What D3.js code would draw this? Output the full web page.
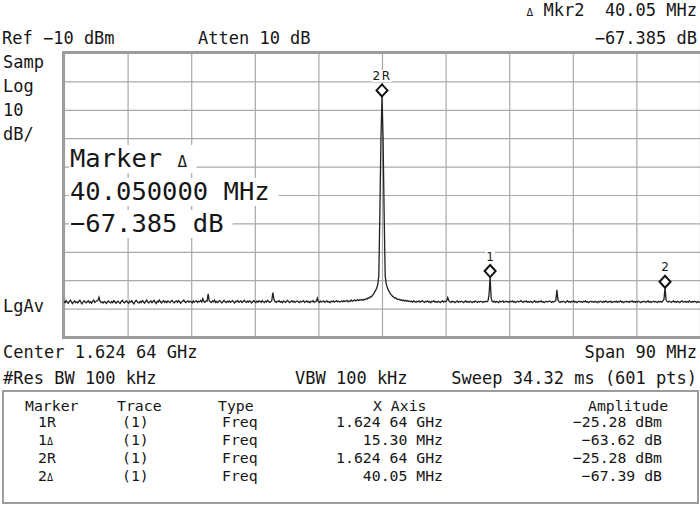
<!DOCTYPE html>
<html><head><meta charset="utf-8">
<script src="https://cdn.jsdelivr.net/npm/d3@7"></script>
<style>html,body{margin:0;padding:0;background:#fff;} svg{display:block;} text{white-space:pre;}</style>
</head><body><svg id="c" width="700" height="505"></svg>
<script>
// ---- instrument settings ----
const centerLabel = "Center 1.624 64 GHz";
const spanMHz = 90;
const refLevel = -10;     // dBm at top
const dbPerDiv = 10;
const numPoints = 601;
const xTicks = [-45, -36, -27, -18, -9, 0, 9, 18, 27, 36, 45];   // MHz offset from center
const yTicks = [-10, -20, -30, -40, -50, -60, -70, -80, -90, -100, -110]; // dBm

// ---- trace (601 points, dBm) ----
const trace = [
-97.4,-97.9,-97.2,-97.8,-98.1,-97.5,-97.0,-97.6,-98.2,-97.7,-97.3,-97.9,-97.6,-98.0,-97.4,-97.1,-97.8,-98.3,-97.6,-97.2,
-97.7,-98.0,-97.5,-97.2,-97.9,-97.6,-98.1,-97.4,-97.0,-97.8,-97.5,-97.3,-97.1,-96.0,-97.4,-97.9,-97.6,-98.0,-97.5,-97.8,
-98.2,-97.6,-97.3,-97.8,-98.0,-97.5,-97.9,-97.2,-97.6,-98.1,-97.7,-97.4,-97.9,-98.2,-97.5,-97.1,-97.7,-98.0,-97.6,-97.3,
-97.8,-98.1,-97.4,-97.7,-97.2,-97.9,-98.3,-97.6,-97.1,-97.5,-97.9,-98.0,-97.4,-97.8,-97.2,-97.6,-98.1,-97.5,-97.0,-97.7,
-98.0,-97.6,-97.3,-97.9,-97.5,-97.1,-97.8,-98.2,-97.4,-97.7,-97.0,-97.6,-98.0,-97.5,-97.2,-97.8,-97.4,-97.9,-97.3,-97.6,
-97.9,-97.4,-97.1,-97.7,-98.0,-97.5,-97.3,-97.8,-97.2,-97.6,-98.1,-97.7,-97.4,-97.0,-97.6,-97.9,-97.5,-97.3,-97.8,-97.4,
-97.6,-98.0,-97.3,-97.7,-97.5,-97.2,-97.8,-97.4,-97.6,-97.1,-97.7,-96.5,-97.5,-97.8,-97.3,-97.4,-94.8,-97.2,-97.6,-97.9,
-97.3,-97.6,-97.0,-97.8,-97.5,-97.9,-97.4,-97.2,-97.7,-98.0,-97.5,-97.1,-97.6,-97.9,-97.4,-97.7,-97.3,-97.8,-97.5,-97.2,
-97.7,-98.0,-97.4,-97.6,-97.2,-97.8,-97.5,-97.3,-97.9,-97.6,-97.1,-97.5,-97.8,-97.4,-97.7,-97.3,-97.6,-98.0,-97.5,-97.2,
-97.6,-97.9,-97.4,-97.7,-97.3,-97.5,-97.8,-97.2,-97.6,-97.9,-97.4,-97.7,-97.1,-97.5,-97.8,-97.6,-97.3,-94.4,-96.6,-97.5,
-97.8,-97.4,-97.6,-97.2,-97.7,-97.5,-97.9,-97.3,-97.6,-97.8,-97.4,-97.1,-97.6,-97.9,-97.5,-97.2,-97.7,-97.4,-97.8,-97.5,
-97.3,-97.6,-97.9,-97.4,-97.7,-97.5,-97.2,-97.8,-97.6,-97.3,-97.7,-97.5,-97.9,-97.4,-97.6,-97.2,-97.8,-97.5,-97.4,-96.3,
-97.6,-97.8,-97.4,-97.7,-97.5,-97.3,-97.8,-97.6,-97.2,-97.7,-97.5,-97.9,-97.4,-97.6,-97.3,-97.7,-97.5,-97.2,-97.6,-97.4,
-97.7,-97.5,-97.3,-97.6,-97.2,-97.5,-97.4,-97.1,-97.6,-97.3,-97.5,-97.0,-97.4,-97.2,-96.9,-97.3,-97.1,-96.8,-97.2,-96.9,
-97.0,-96.8,-97.1,-96.7,-96.9,-96.5,-96.6,-96.2,-96.3,-95.8,-95.9,-95.3,-94.9,-94.2,-93.6,-92.8,-91.5,-88.5,-66.0,-40.0,
-25.28,-40.0,-66.0,-88.5,-91.3,-92.6,-93.5,-94.1,-94.8,-95.2,-95.7,-95.9,-96.3,-96.2,-96.6,-96.8,-96.7,-97.0,-96.9,-97.2,
-97.0,-97.3,-97.1,-97.4,-97.2,-97.5,-97.3,-97.6,-97.4,-97.7,-97.3,-97.5,-97.8,-97.4,-97.6,-97.3,-97.7,-97.5,-97.2,-97.6,
-97.8,-97.4,-97.6,-97.3,-97.7,-97.5,-97.9,-97.4,-97.6,-97.2,-97.7,-97.5,-97.8,-97.4,-97.6,-97.9,-97.5,-97.3,-97.7,-97.4,
-97.6,-97.3,-96.1,-97.2,-97.6,-97.8,-97.4,-97.7,-97.5,-97.9,-97.6,-97.3,-97.8,-97.5,-97.7,-97.4,-97.6,-97.9,-97.5,-97.3,
-97.7,-97.5,-97.8,-97.4,-97.6,-97.9,-97.5,-97.7,-97.3,-97.6,-97.8,-97.5,-97.7,-97.4,-97.6,-97.8,-97.5,-97.7,-97.4,-97.6,
-97.3,-95.0,-88.9,-96.4,-97.5,-97.7,-97.4,-97.8,-97.5,-97.6,-97.9,-97.4,-97.7,-97.5,-97.3,-97.8,-97.6,-97.4,-97.7,-97.5,
-97.8,-97.4,-97.6,-97.3,-97.7,-97.5,-97.9,-97.6,-97.4,-97.7,-97.5,-97.2,-97.6,-97.8,-97.4,-97.6,-97.3,-97.7,-97.5,-97.8,
-97.4,-97.6,-97.9,-97.5,-97.3,-97.7,-97.5,-97.8,-97.4,-97.6,-97.3,-97.7,-97.5,-97.9,-97.6,-97.4,-97.7,-97.5,-97.3,-97.6,
-97.8,-97.5,-97.7,-97.4,-97.2,-93.4,-97.0,-97.6,-97.8,-97.5,-97.7,-97.4,-97.6,-97.9,-97.5,-97.3,-97.7,-97.5,-97.8,-97.4,
-97.6,-97.3,-97.7,-97.5,-97.9,-97.6,-97.4,-97.7,-97.5,-97.8,-97.4,-97.6,-97.3,-97.7,-97.5,-97.9,-97.6,-97.4,-97.7,-97.5,
-97.8,-97.4,-97.6,-97.9,-97.5,-97.7,-97.4,-97.6,-97.8,-97.5,-97.7,-97.3,-97.6,-97.8,-97.5,-97.7,-97.4,-97.9,-97.6,-97.5,
-97.7,-97.4,-97.8,-97.5,-97.6,-97.3,-97.7,-97.5,-97.9,-97.6,-97.4,-97.7,-97.5,-97.8,-97.4,-97.6,-97.3,-97.7,-97.5,-97.8,
-97.5,-97.7,-97.4,-97.6,-97.9,-97.5,-97.7,-97.4,-97.6,-97.8,-97.5,-97.3,-97.7,-97.5,-97.8,-97.6,-97.4,-97.7,-97.5,-97.6,
-97.8,-97.4,-97.6,-97.5,-97.7,-97.3,-96.8,-92.67,-96.9,-97.5,-97.7,-97.4,-97.6,-97.8,-97.5,-97.3,-97.7,-97.5,-97.8,-97.4,
-97.6,-97.9,-97.5,-97.3,-97.7,-97.6,-97.4,-97.8,-97.5,-97.7,-97.3,-97.6,-97.8,-97.5,-97.7,-97.4,-97.6,-97.9,-97.5,-97.7,
-97.6
];

// ---- markers on screen ----
const markerLabels = ["2R", "1", "2"];
const markerFreq = [0, 15.30, 40.05];          // MHz offset from center
const markerAmp = [-25.28, -88.90, -92.67];    // dBm

// ---- marker table ----
const tableHeaders = ["Marker", "Trace", "Type", "X Axis", "Amplitude"];
const tableMarker = ["1R", "1Δ", "2R", "2Δ"];
const tableTrace = ["(1)", "(1)", "(1)", "(1)"];
const tableType = ["Freq", "Freq", "Freq", "Freq"];
const tableX = ["1.624 64 GHz", "15.30 MHz", "1.624 64 GHz", "40.05 MHz"];
const tableAmp = ["−25.28 dBm", "−63.62 dB", "−25.28 dBm", "−67.39 dB"];

// ---- drawing ----
const svg = d3.select("#c");
const L = 64, R = 700, T = 53, B = 337;
const x = d3.scaleLinear().domain([-spanMHz / 2, spanMHz / 2]).range([L, R]);
const y = d3.scaleLinear().domain([refLevel - 10 * dbPerDiv, refLevel]).range([B, T]);
const MONO = "'DejaVu Sans Mono', 'Liberation Mono', monospace";
const INK = "#161616";

// grid
const gx = svg.append("g").attr("transform", `translate(0,${B})`)
  .call(d3.axisBottom(x).tickValues(xTicks).tickSize(-(B - T)).tickFormat(""));
const gy = svg.append("g").attr("transform", `translate(${L},0)`)
  .call(d3.axisLeft(y).tickValues(yTicks).tickSize(-(R - L)).tickFormat(""));
[gx, gy].forEach(g => {
  g.select(".domain").remove();
  g.selectAll(".tick line").attr("stroke", "#a9a9a9").attr("stroke-width", 1.2);
});

// frame
svg.append("rect").attr("x", L - 0.5).attr("y", T - 0.5).attr("width", R - L + 10).attr("height", B - T + 1)
  .attr("fill", "none").attr("stroke", "#9c9c9c").attr("stroke-width", 3);

// large marker readout (with white boxes behind)
const big = [
  { t: "Marker ", d: "Δ", y: 167 },
  { t: "40.050000 MHz", d: "", y: 200 },
  { t: "−67.385 dB", d: "", y: 232 }
];
const bigG = svg.append("g");
big.forEach(b => {
  const bg = bigG.append("rect").attr("fill", "#fff");
  const tx = bigG.append("text").attr("x", 70).attr("y", b.y)
    .attr("font-family", MONO).attr("font-size", 25.5).attr("fill", INK).text(b.t);
  if (b.d) tx.append("tspan").attr("font-size", 16).text(b.d);
  const bb = tx.node().getBBox();
  bg.attr("x", bb.x - 1).attr("y", bb.y + 2).attr("width", bb.width + 10).attr("height", bb.height - 2);
});

// trace
const line = d3.line()
  .x((d, i) => x(-spanMHz / 2 + i * spanMHz / (numPoints - 1)))
  .y(d => y(d));
svg.append("path").datum(trace).attr("d", line)
  .attr("fill", "none").attr("stroke", "#222").attr("stroke-width", 1.3).attr("stroke-linejoin", "miter");

// markers
const mg = svg.append("g");
markerLabels.forEach((lab, k) => {
  const mx = x(markerFreq[k]), my = y(markerAmp[k]);
  mg.append("path")
    .attr("d", `M${mx},${my} L${mx + 5.5},${my - 6} L${mx},${my - 12} L${mx - 5.5},${my - 6} Z`)
    .attr("fill", "#fff").attr("stroke", "#111").attr("stroke-width", 2);
  const bg = mg.append("rect").attr("fill", "#fff");
  const lt = mg.append("text").attr("x", mx).attr("y", my - 16.5).attr("text-anchor", "middle")
    .attr("font-family", "'DejaVu Sans', sans-serif").attr("font-size", 12).attr("fill", INK)
    .attr("letter-spacing", lab.length > 1 ? 1.5 : 0).text(lab);
  const bb = lt.node().getBBox();
  bg.attr("x", bb.x - 1).attr("y", bb.y + 1).attr("width", bb.width + 2).attr("height", bb.height - 2);
});

// annotation text
const txt = (s, xx, yy, anchor, size) => svg.append("text").attr("x", xx).attr("y", yy)
  .attr("text-anchor", anchor || "start").attr("font-family", MONO)
  .attr("font-size", size || 17).attr("fill", INK).text(s);

const mk = svg.append("text").attr("x", 697).attr("y", 16).attr("text-anchor", "end")
  .attr("font-family", MONO).attr("font-size", 17).attr("fill", INK);
mk.append("tspan").attr("font-size", 11).text("Δ");
mk.append("tspan").text(" Mkr2  40.05 MHz");
txt("−67.385 dB", 697, 44, "end");
txt("Ref −10 dBm", 2, 44);
txt("Atten 10 dB", 198, 44);
["Samp", "Log", "10", "dB/"].forEach((s, i) => txt(s, 3, 68 + i * 24));
txt("LgAv", 3, 312);
txt(centerLabel, 3, 358);
txt("Span " + spanMHz + " MHz", 697, 358, "end");
txt("#Res BW 100 kHz", 3, 384);
txt("VBW 100 kHz", 295, 384);
txt("Sweep 34.32 ms (601 pts)", 697, 384, "end");

// table
svg.append("rect").attr("x", 3).attr("y", 391).attr("width", 695).attr("height", 112)
  .attr("fill", "none").attr("stroke", "#9c9c9c").attr("stroke-width", 2);
const TS = 14.8;
const hx = [25, 117, 218, 373, 588];
tableHeaders.forEach((h, i) => txt(h, hx[i], 410.5, "start", TS));
const rowY = [427, 445, 463, 481];
rowY.forEach((ry, r) => {
  const m = tableMarker[r];
  const mt = txt(m[0], 38, ry, "start", TS);
  if (m[1] === "Δ") mt.append("tspan").attr("font-size", 10).text("Δ");
  else mt.append("tspan").text(m[1]);
  txt(tableTrace[r], 122, ry, "start", TS);
  txt(tableType[r], 222, ry, "start", TS);
  txt(tableX[r], 443, ry, "end", TS);
  txt(tableAmp[r], 662, ry, "end", TS);
});
</script></body></html>
